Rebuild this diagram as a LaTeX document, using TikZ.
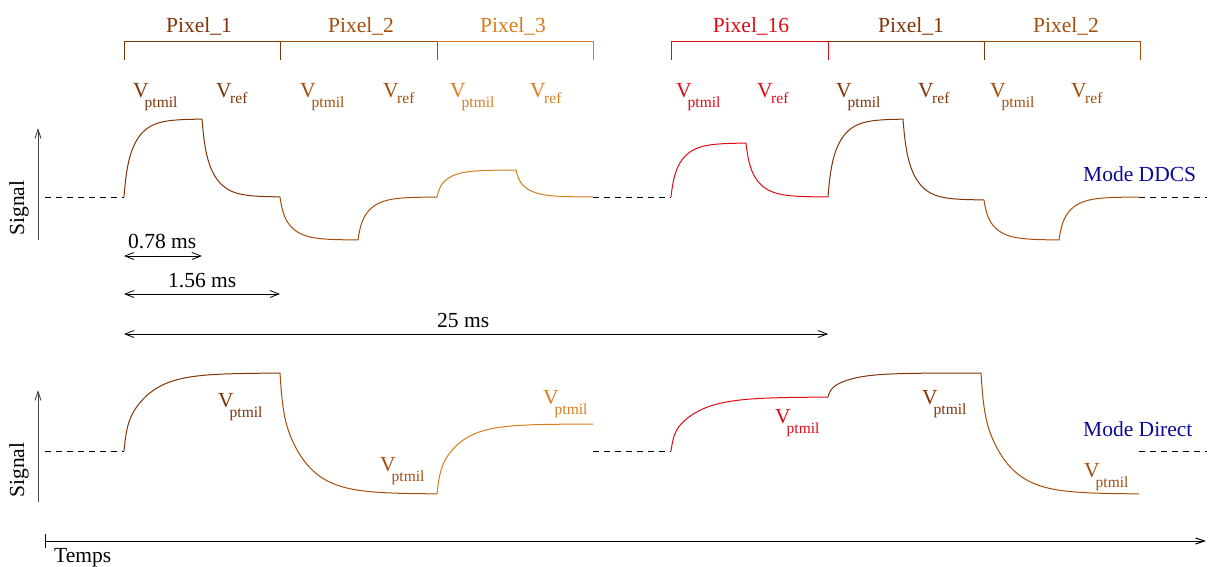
\documentclass[tikz,border=0pt]{standalone}
\usepackage{fontspec}
\setmainfont{Liberation Serif}
\usetikzlibrary{arrows.meta}
\definecolor{pxA}{RGB}{128,52,8}
\definecolor{pxB}{RGB}{165,78,12}
\definecolor{pxC}{RGB}{215,125,30}
\definecolor{pxR}{RGB}{222,12,22}
\definecolor{modeblue}{RGB}{10,10,150}
\newcommand\Vp{V\kern-4pt\raisebox{-10pt}{\fontsize{15.5}{16}\selectfont ptmil}}
\newcommand\Vr{V\kern-1.5pt\raisebox{-6pt}{\fontsize{15.5}{16}\selectfont ref}}
% exponential-like segment with a fast initial part
\newcommand\wseg[6]{\draw[wave,#1] plot[domain=#2:#3,samples=160] (\x,{#5+(#4-#5)*(0.28*exp(-(\x-#2)/2.5)+0.72*exp(-(\x-#2)/#6))});}
\tikzset{
  lbl/.style={inner sep=0pt, font=\fontsize{21.5}{24}\selectfont},
  wave/.style={line width=1pt},
  brk/.style={line width=0.9pt},
  dimarrow/.style={{Straight Barb[length=9pt,width=7pt]}-{Straight Barb[length=9pt,width=7pt]}, line width=0.8pt},
  dashbase/.style={dash pattern=on 6pt off 5pt, line width=0.9pt},
  axarrow/.style={-{Straight Barb[length=9pt,width=6pt]}, line width=0.9pt, black!75}
}
\begin{document}
\begin{tikzpicture}[x=1pt,y=-1pt]
\useasboundingbox (0,0) rectangle (1208,567);

% ---- brackets ----
\draw[brk,pxA] (124,60) -- (124,41) -- (280,41) -- (280,60);
\draw[brk,pxB] (280,41) -- (437,41) -- (437,60);
\draw[brk,pxC] (437,41) -- (593,41) -- (593,60);
\draw[brk,pxR] (671,60) -- (671,41) -- (828,41) -- (828,60);
\draw[brk,pxA] (828,41) -- (984,41) -- (984,60);
\draw[brk,pxB] (984,41) -- (1140,41) -- (1140,60);

\node[lbl,pxA,anchor=base] (p1) at (199,33) {Pixel\_1};
\node[lbl,pxB,anchor=base] (p2) at (361,33) {Pixel\_2};
\node[lbl,pxC,anchor=base] (p3) at (513,33) {Pixel\_3};
\node[lbl,pxR,anchor=base] (p16) at (751,33) {Pixel\_16};
\node[lbl,pxA,anchor=base] (p1b) at (911,33) {Pixel\_1};
\node[lbl,pxB,anchor=base] (p2b) at (1066,33) {Pixel\_2};

% ---- V labels top ----
\node[lbl,pxA,anchor=base west] (v1p) at (133,98) {\Vp};
\node[lbl,pxA,anchor=base west] (v1r) at (216,98) {\Vr};
\node[lbl,pxB,anchor=base west] (v2p) at (300,98) {\Vp};
\node[lbl,pxB,anchor=base west] (v2r) at (383,98) {\Vr};
\node[lbl,pxC,anchor=base west] (v3p) at (450,98) {\Vp};
\node[lbl,pxC,anchor=base west] (v3r) at (530,98) {\Vr};
\node[lbl,pxR,anchor=base west] (v16p) at (676,98) {\Vp};
\node[lbl,pxR,anchor=base west] (v16r) at (757,98) {\Vr};
\node[lbl,pxA,anchor=base west] (v1bp) at (836,98) {\Vp};
\node[lbl,pxA,anchor=base west] (v1br) at (918,98) {\Vr};
\node[lbl,pxB,anchor=base west] (v2bp) at (990,98) {\Vp};
\node[lbl,pxB,anchor=base west] (v2br) at (1071,98) {\Vr};

% ---- DDCS waveform ----
\draw[dashbase] (45,197) -- (124,197);
\draw[dashbase] (593,197) -- (671,197);
\draw[dashbase] (1139,197) -- (1207,197);
\wseg{pxA}{124}{202}{197}{119}{13}
\wseg{pxA}{202}{280}{119}{197}{13}
\wseg{pxB}{280}{358}{197}{240}{13}
\wseg{pxB}{358}{437}{240}{197}{13}
\wseg{pxC}{437}{516}{197}{170}{13}
\wseg{pxC}{516}{593}{170}{197}{13}
\wseg{pxR}{671}{746}{197}{143}{13}
\wseg{pxR}{746}{828}{143}{197}{13}
\wseg{pxA}{828}{903}{197}{119}{13}
\wseg{pxA}{903}{984}{119}{200}{13}
\wseg{pxB}{984}{1059}{200}{240}{13}
\wseg{pxB}{1059}{1139}{240}{197}{13}

\node[lbl,modeblue,anchor=base west] (mddcs) at (1083,182) {Mode DDCS};

% ---- Signal axes ----
\coordinate (s1a) at (38,240);
\coordinate (s1b) at (38,128);
\draw[axarrow] (s1a) -- (s1b);
\node[lbl,rotate=90] (sig1) at (19,208) {Signal};
\coordinate (s2a) at (38,502);
\coordinate (s2b) at (38,390);
\draw[axarrow] (s2a) -- (s2b);
\node[lbl,rotate=90] (sig2) at (19,470) {Signal};

% ---- dimensions ----
\coordinate (d1a) at (124,256);
\coordinate (d1b) at (202,256);
\draw[dimarrow] (d1a) -- (d1b);
\node[lbl,anchor=base west] (t078) at (128,248) {0.78 ms};
\coordinate (d2a) at (124,294);
\coordinate (d2b) at (280,294);
\draw[dimarrow] (d2a) -- (d2b);
\node[lbl,anchor=base west] (t156) at (168,287) {1.56 ms};
\coordinate (d3a) at (124,334);
\coordinate (d3b) at (828,334);
\draw[dimarrow] (d3a) -- (d3b);
\node[lbl,anchor=base west] (t25) at (437,327) {25 ms};

% ---- Direct waveform ----
\draw[dashbase] (45,451) -- (124,451);
\draw[dashbase] (593,451) -- (671,451);
\draw[dashbase] (1139,451) -- (1207,451);
\wseg{pxA}{124}{280}{451}{373}{25}
\wseg{pxB}{280}{437}{373}{494}{25}
\wseg{pxC}{437}{593}{494}{424}{23}
\wseg{pxR}{671}{828}{451}{397}{27}
\wseg{pxA}{828}{981}{397}{373}{22}
\wseg{pxB}{981}{1139}{373}{494}{25}

\node[lbl,pxA,anchor=base west] (w1) at (218,407) {\Vp};
\node[lbl,pxB,anchor=base west] (w2) at (380,471) {\Vp};
\node[lbl,pxC,anchor=base west] (w3) at (543,404) {\Vp};
\node[lbl,pxR,anchor=base west] (w16) at (775,423) {\Vp};
\node[lbl,pxA,anchor=base west] (w1b) at (922,404) {\Vp};
\node[lbl,pxB,anchor=base west] (w2b) at (1084,477) {\Vp};

\node[lbl,modeblue,anchor=base west] (mdir) at (1083,436) {Mode Direct};

% ---- time axis ----
\coordinate (ta) at (45,541);
\coordinate (tb) at (1206,541);
\draw[line width=1pt,-{Straight Barb[length=9pt,width=6pt]}] (ta) -- (tb);
\draw[line width=1pt] (45,534) -- (45,548);
\node[lbl,anchor=base west] (temps) at (54,562) {Temps};
\end{tikzpicture}
\end{document}
